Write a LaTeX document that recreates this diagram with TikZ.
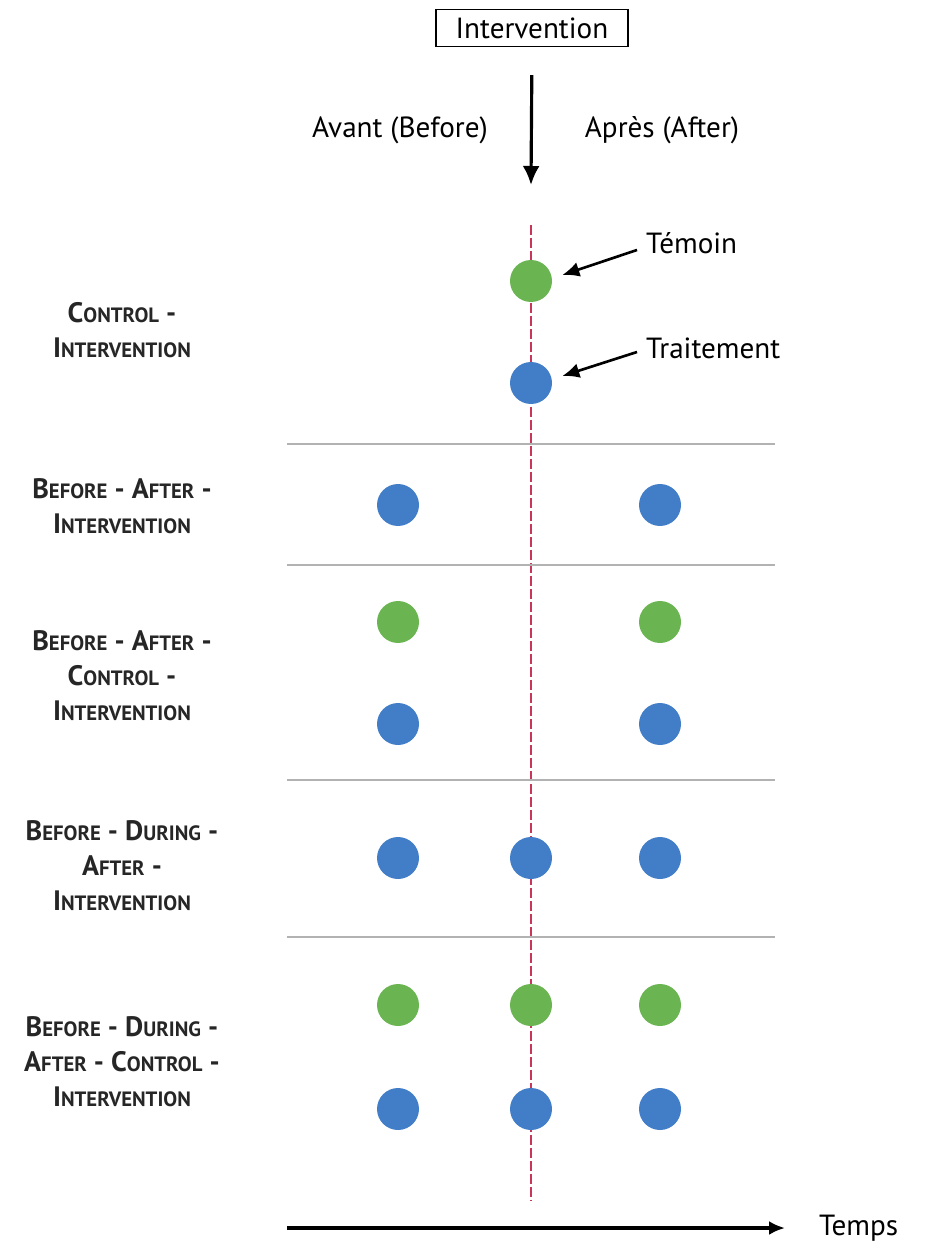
\documentclass[tikz,border=0pt]{standalone}
\usepackage{fontspec}
\setmainfont{PT Sans}
\usetikzlibrary{positioning,calc,arrows.meta}
\definecolor{temoingreen}{RGB}{106,181,82}
\definecolor{traitblue}{RGB}{66,126,199}
\definecolor{dashred}{RGB}{200,55,90}
\colorlet{sepgray}{gray!60}
\newcommand\capsc[2]{#1{\fontsize{11.8}{22}\selectfont #2}}

\begin{document}
\begin{tikzpicture}
  [x=0.02cm, y=-0.02cm,
  dot/.style={
    circle,
    minimum size=0.84cm,
    inner sep=0pt,
    fill=#1
    },
  design/.style={
    font=\bfseries\fontsize{16}{20}\selectfont,
    align=center,
    text=black!85
    },
  txt/.style={font=\fontsize{16.6}{20}\selectfont}
  ]
  \useasboundingbox (0,0) rectangle (927,1243);

  % TOP
  \node [txt, draw, line width=0.8pt, minimum width=3.84cm, minimum height=0.74cm] (intervention) at (532,28) {Intervention};
  \coordinate (arrowtip) at (531,185);
  \draw[-{Latex[length=0.38cm,width=0.34cm]}, line width=1.8pt, shorten <=0.56cm] (intervention.south) -- (arrowtip);

  \node [txt] (avant) at (400,130) {Avant (Before)};
  \node [txt] (apres) at (662,130) {Après (After)};

  % TIMELINE
  \coordinate (dashtop) at (531,225);
  \coordinate (dashbot) at (531,1200);
  \draw[dashred, line width=1pt, dash pattern=on 0.2cm off 0.06cm] (dashtop) -- (dashbot);

  \foreach \y in {444,565,780,937}
    \draw[sepgray, line width=0.6pt] (287,\y) -- (775,\y);

  % DESIGNS
  \node [design] (ci) at (122,330) {\capsc{C}{ONTROL} -\\\capsc{I}{NTERVENTION}};
  \node [dot=temoingreen] (cig) at (531,281) {};
  \node [dot=traitblue] (cib) at (531,383) {};

  \node [txt, anchor=west] (temoin) at (640,243) {Témoin};
  \node [txt, anchor=west] (traitement) at (640,348) {Traitement};
  \draw[-{Latex[length=0.34cm,width=0.3cm]}, line width=1.5pt] ([xshift=-0.06cm,yshift=-0.14cm]temoin.west) -- ([xshift=0.2cm,yshift=0.12cm]cig.east);
  \draw[-{Latex[length=0.34cm,width=0.3cm]}, line width=1.5pt] ([xshift=-0.06cm,yshift=-0.08cm]traitement.west) -- ([xshift=0.2cm,yshift=0.14cm]cib.east);

  \node [design] (bai) at (122,506) {\capsc{B}{EFORE} - \capsc{A}{FTER} -\\\capsc{I}{NTERVENTION}};
  \node [dot=traitblue] (baib1) at (398,505) {};
  \node [dot=traitblue] (baib2) at (660,505) {};

  \node [design] (baci) at (122,676) {\capsc{B}{EFORE} - \capsc{A}{FTER} -\\\capsc{C}{ONTROL} -\\\capsc{I}{NTERVENTION}};
  \node [dot=temoingreen] (bacig1) at (398,622) {};
  \node [dot=temoingreen] (bacig2) at (660,622) {};
  \node [dot=traitblue] (bacib1) at (398,724) {};
  \node [dot=traitblue] (bacib2) at (660,724) {};

  \node [design] (bdai) at (122,866) {\capsc{B}{EFORE} - \capsc{D}{URING} -\\\capsc{A}{FTER} -\\\capsc{I}{NTERVENTION}};
  \node [dot=traitblue] (bdaib1) at (398,858) {};
  \node [dot=traitblue] (bdaib2) at (531,858) {};
  \node [dot=traitblue] (bdaib3) at (660,858) {};

  \node [design] (bdaci) at (122,1062) {\capsc{B}{EFORE} - \capsc{D}{URING} -\\\capsc{A}{FTER} - \capsc{C}{ONTROL} -\\\capsc{I}{NTERVENTION}};
  \node [dot=temoingreen] (bdacig1) at (398,1005) {};
  \node [dot=temoingreen] (bdacig2) at (531,1005) {};
  \node [dot=temoingreen] (bdacig3) at (660,1005) {};
  \node [dot=traitblue] (bdacib1) at (398,1109) {};
  \node [dot=traitblue] (bdacib2) at (531,1109) {};
  \node [dot=traitblue] (bdacib3) at (660,1109) {};

  % TEMPS
  \coordinate (tstart) at (287,1228);
  \coordinate (tend) at (785,1228);
  \node [txt, right=0.56cm of tend] (temps) {Temps};
  \draw[-{Latex[length=0.32cm,width=0.28cm]}, line width=2pt] (tstart) -- (tend);
\end{tikzpicture}
\end{document}
